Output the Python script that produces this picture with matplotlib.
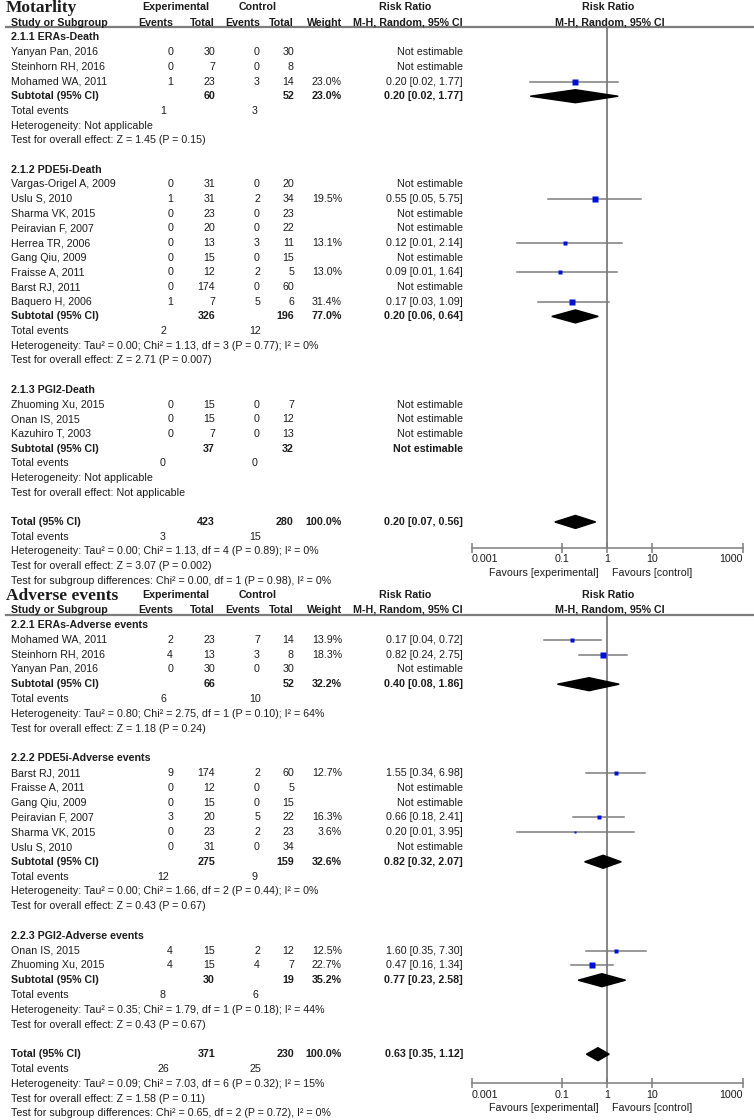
"""
Forest plots (risk ratio, M-H random) for mortality and adverse events.
"""

import matplotlib.pyplot as plt
from matplotlib.ticker import NullLocator

plt.rcParams["font.family"] = ["Liberation Sans", "DejaVu Sans"]

# study rows: (study, exp events, exp total, ctl events, ctl total, weight %, RR, lower, upper)
mort_era = [
    ("Yanyan Pan, 2016", 0, 30, 0, 30, None, None, None, None),
    ("Steinhorn RH, 2016", 0, 7, 0, 8, None, None, None, None),
    ("Mohamed WA, 2011", 1, 23, 3, 14, 23.0, 0.20, 0.02, 1.77),
]
mort_pde5i = [
    ("Vargas-Origel A, 2009", 0, 31, 0, 20, None, None, None, None),
    ("Uslu S, 2010", 1, 31, 2, 34, 19.5, 0.55, 0.05, 5.75),
    ("Sharma VK, 2015", 0, 23, 0, 23, None, None, None, None),
    ("Peiravian F, 2007", 0, 20, 0, 22, None, None, None, None),
    ("Herrea TR, 2006", 0, 13, 3, 11, 13.1, 0.12, 0.01, 2.14),
    ("Gang Qiu, 2009", 0, 15, 0, 15, None, None, None, None),
    ("Fraisse A, 2011", 0, 12, 2, 5, 13.0, 0.09, 0.01, 1.64),
    ("Barst RJ, 2011", 0, 174, 0, 60, None, None, None, None),
    ("Baquero H, 2006", 1, 7, 5, 6, 31.4, 0.17, 0.03, 1.09),
]
mort_pgi2 = [
    ("Zhuoming Xu, 2015", 0, 15, 0, 7, None, None, None, None),
    ("Onan IS, 2015", 0, 15, 0, 12, None, None, None, None),
    ("Kazuhiro T, 2003", 0, 7, 0, 13, None, None, None, None),
]
mort_groups = ["2.1.1 ERAs-Death", "2.1.2 PDE5i-Death", "2.1.3 PGI2-Death"]
mort_sub_n = [(60, 52), (326, 196), (37, 32)]
mort_sub_weight = [23.0, 77.0, None]
mort_sub_rr = [(0.20, 0.02, 1.77), (0.20, 0.06, 0.64), None]
mort_sub_events = [(1, 3), (2, 12), (0, 0)]
mort_sub_het = [
    "Heterogeneity: Not applicable",
    "Heterogeneity: Tau² = 0.00; Chi² = 1.13, df = 3 (P = 0.77); I² = 0%",
    "Heterogeneity: Not applicable",
]
mort_sub_z = [
    "Test for overall effect: Z = 1.45 (P = 0.15)",
    "Test for overall effect: Z = 2.71 (P = 0.007)",
    "Test for overall effect: Not applicable",
]
mort_total_n = (423, 280)
mort_total_rr = (0.20, 0.07, 0.56)
mort_total_events = (3, 15)
mort_total_notes = [
    "Heterogeneity: Tau² = 0.00; Chi² = 1.13, df = 4 (P = 0.89); I² = 0%",
    "Test for overall effect: Z = 3.07 (P = 0.002)",
    "Test for subgroup differences: Chi² = 0.00, df = 1 (P = 0.98), I² = 0%",
]

adv_era = [
    ("Mohamed WA, 2011", 2, 23, 7, 14, 13.9, 0.17, 0.04, 0.72),
    ("Steinhorn RH, 2016", 4, 13, 3, 8, 18.3, 0.82, 0.24, 2.75),
    ("Yanyan Pan, 2016", 0, 30, 0, 30, None, None, None, None),
]
adv_pde5i = [
    ("Barst RJ, 2011", 9, 174, 2, 60, 12.7, 1.55, 0.34, 6.98),
    ("Fraisse A, 2011", 0, 12, 0, 5, None, None, None, None),
    ("Gang Qiu, 2009", 0, 15, 0, 15, None, None, None, None),
    ("Peiravian F, 2007", 3, 20, 5, 22, 16.3, 0.66, 0.18, 2.41),
    ("Sharma VK, 2015", 0, 23, 2, 23, 3.6, 0.20, 0.01, 3.95),
    ("Uslu S, 2010", 0, 31, 0, 34, None, None, None, None),
]
adv_pgi2 = [
    ("Onan IS, 2015", 4, 15, 2, 12, 12.5, 1.60, 0.35, 7.30),
    ("Zhuoming Xu, 2015", 4, 15, 4, 7, 22.7, 0.47, 0.16, 1.34),
]
adv_groups = ["2.2.1 ERAs-Adverse events", "2.2.2 PDE5i-Adverse events",
              "2.2.3 PGI2-Adverse events"]
adv_sub_n = [(66, 52), (275, 159), (30, 19)]
adv_sub_weight = [32.2, 32.6, 35.2]
adv_sub_rr = [(0.40, 0.08, 1.86), (0.82, 0.32, 2.07), (0.77, 0.23, 2.58)]
adv_sub_events = [(6, 10), (12, 9), (8, 6)]
adv_sub_het = [
    "Heterogeneity: Tau² = 0.80; Chi² = 2.75, df = 1 (P = 0.10); I² = 64%",
    "Heterogeneity: Tau² = 0.00; Chi² = 1.66, df = 2 (P = 0.44); I² = 0%",
    "Heterogeneity: Tau² = 0.35; Chi² = 1.79, df = 1 (P = 0.18); I² = 44%",
]
adv_sub_z = [
    "Test for overall effect: Z = 1.18 (P = 0.24)",
    "Test for overall effect: Z = 0.43 (P = 0.67)",
    "Test for overall effect: Z = 0.43 (P = 0.67)",
]
adv_total_n = (371, 230)
adv_total_rr = (0.63, 0.35, 1.12)
adv_total_events = (26, 25)
adv_total_notes = [
    "Heterogeneity: Tau² = 0.09; Chi² = 7.03, df = 6 (P = 0.32); I² = 15%",
    "Test for overall effect: Z = 1.58 (P = 0.11)",
    "Test for subgroup differences: Chi² = 0.65, df = 2 (P = 0.72), I² = 0%",
]

tick_values = [0.001, 0.1, 1, 10, 1000]
tick_labels = ["0.001", "0.1", "1", "10", "1000"]

W, H = 754, 1120
TXT = "#1c1c1c"
GREY = "#7d7d7d"
FS = 7.7

fig = plt.figure(figsize=(W / 100, H / 100), dpi=100)
# full-figure axes in pixel units, only used to place the table text
tab = fig.add_axes([0, 0, 1, 1])
tab.set_xlim(0, W)
tab.set_ylim(H, 0)
tab.axis("off")

# column right edges (pixels)
X_NAME, X_EEV, X_EN, X_CEV, X_CN, X_W, X_RR = 11, 173, 215, 260, 294, 342, 463
X_TEV, X_TCEV = 163, 255
F_LEFT, F_RIGHT = 471.5, 742.5


def put(x, y, s, ha="left", bold=False, **kw):
    tab.text(x, y, s, ha=ha, va="center", fontsize=kw.pop("size", FS),
             fontweight="bold" if bold else "normal", color=TXT, **kw)


def rr_text(rr):
    if rr is None:
        return "Not estimable"
    return f"{rr[0]:.2f} [{rr[1]:.2f}, {rr[2]:.2f}]"


def draw_section(title, y0, step, groups, studies, sub_n, sub_w, sub_rr,
                 sub_ev, sub_het, sub_z, tot_n, tot_rr, tot_ev, tot_notes,
                 axis_y):
    # headers
    put(6, y0 - 29.5, title, bold=True, size=12.5, family="Liberation Serif")
    put(176, y0 - 30, "Experimental", ha="center", bold=True)
    put(258, y0 - 30, "Control", ha="center", bold=True)
    put(405, y0 - 30, "Risk Ratio", ha="center", bold=True)
    put(608, y0 - 30, "Risk Ratio", ha="center", bold=True)
    hy = y0 - 15
    put(X_NAME, hy, "Study or Subgroup", bold=True)
    for x, s in [(X_EEV, "Events"), (X_EN, "Total"), (X_CEV, "Events"),
                 (X_CN, "Total"), (X_W, "Weight"), (X_RR, "M-H, Random, 95% CI")]:
        put(x, hy, s, ha="right", bold=True)
    put(610, hy, "M-H, Random, 95% CI", ha="center", bold=True)
    line_y = y0 - 10.5
    tab.plot([6, W], [line_y, line_y], color=GREY, lw=1.6)

    # forest panel sharing pixel rows with the table
    fx = fig.add_axes([F_LEFT / W, 1 - axis_y / H, (F_RIGHT - F_LEFT) / W,
                       (axis_y - line_y) / H])
    fx.set_xscale("log")
    fx.set_xlim(tick_values[0], tick_values[-1])
    fx.set_ylim(axis_y, line_y)
    fx.patch.set_alpha(0)
    for side in ["top", "left", "right"]:
        fx.spines[side].set_visible(False)
    fx.spines["bottom"].set_color(GREY)
    fx.spines["bottom"].set_linewidth(1.1)
    fx.set_yticks([])
    fx.set_xticks(tick_values)
    fx.set_xticklabels(tick_labels)
    fx.xaxis.set_minor_locator(NullLocator())
    fx.tick_params(axis="x", direction="inout", length=7, width=1.1, colors=GREY,
                   labelcolor=TXT, labelsize=FS, pad=1.5)
    labs = fx.get_xticklabels()
    labs[0].set_ha("left")
    labs[-1].set_ha("right")
    fx.axvline(1, color=GREY, lw=1.3, zorder=1)

    def diamond(rr, y):
        fx.fill([rr[1], rr[0], rr[2], rr[0]], [y, y - 6.5, y, y + 6.5],
                color="black", zorder=3, clip_on=False)

    i = 0
    for g, rows in enumerate(studies):
        put(X_NAME, y0 + i * step, groups[g], bold=True)
        i += 1
        for name, eev, en, cev, cn, w, rr, lo, hi in rows:
            y = y0 + i * step
            put(X_NAME, y, name)
            put(X_EEV, y, str(eev), ha="right")
            put(X_EN, y, str(en), ha="right")
            put(X_CEV, y, str(cev), ha="right")
            put(X_CN, y, str(cn), ha="right")
            if w is not None:
                put(X_W, y, f"{w:.1f}%", ha="right")
                put(X_RR, y, rr_text((rr, lo, hi)), ha="right")
                fx.plot([lo, hi], [y, y], color=GREY, lw=1.1, zorder=2)
                side = max(2.0, 1.2 * w ** 0.5) * 72 / 100
                fx.plot(rr, y, marker="s", ms=side, color="#0010d0", mec="none",
                        zorder=4)
            else:
                put(X_RR, y, "Not estimable", ha="right")
            i += 1
        y = y0 + i * step
        put(X_NAME, y, "Subtotal (95% CI)", bold=True)
        put(X_EN, y, str(sub_n[g][0]), ha="right", bold=True)
        put(X_CN, y, str(sub_n[g][1]), ha="right", bold=True)
        if sub_w[g] is not None:
            put(X_W, y, f"{sub_w[g]:.1f}%", ha="right", bold=True)
        put(X_RR, y, rr_text(sub_rr[g]), ha="right", bold=True)
        if sub_rr[g] is not None:
            diamond(sub_rr[g], y)
        i += 1
        y = y0 + i * step
        put(X_NAME, y, "Total events")
        put(X_TEV, y, str(sub_ev[g][0]), ha="center")
        put(X_TCEV, y, str(sub_ev[g][1]), ha="center")
        put(X_NAME, y0 + (i + 1) * step, sub_het[g])
        put(X_NAME, y0 + (i + 2) * step, sub_z[g])
        i += 4

    y = y0 + i * step
    put(X_NAME, y, "Total (95% CI)", bold=True)
    put(X_EN, y, str(tot_n[0]), ha="right", bold=True)
    put(X_CN, y, str(tot_n[1]), ha="right", bold=True)
    put(X_W, y, "100.0%", ha="right", bold=True)
    put(X_RR, y, rr_text(tot_rr), ha="right", bold=True)
    diamond(tot_rr, y)
    i += 1
    y = y0 + i * step
    put(X_NAME, y, "Total events")
    put(X_TEV, y, str(tot_ev[0]), ha="center")
    put(X_TCEV, y, str(tot_ev[1]), ha="center")
    for k, note in enumerate(tot_notes):
        put(X_NAME, y0 + (i + 1 + k) * step, note)

    fav_y = axis_y + 25
    fx.annotate("Favours [experimental]", xy=(1, fav_y), xytext=(-8, 0),
                textcoords="offset pixels", ha="right", va="center",
                fontsize=FS, color=TXT, annotation_clip=False)
    fx.annotate("Favours [control]", xy=(1, fav_y), xytext=(5, 0),
                textcoords="offset pixels", ha="left", va="center",
                fontsize=FS, color=TXT, annotation_clip=False)


draw_section("Motarlity", 37.5, 14.68,
             mort_groups, [mort_era, mort_pde5i, mort_pgi2],
             mort_sub_n, mort_sub_weight, mort_sub_rr, mort_sub_events,
             mort_sub_het, mort_sub_z, mort_total_n, mort_total_rr,
             mort_total_events, mort_total_notes, axis_y=547.5)

draw_section("Adverse events", 625, 14.8,
             adv_groups, [adv_era, adv_pde5i, adv_pgi2],
             adv_sub_n, adv_sub_weight, adv_sub_rr, adv_sub_events,
             adv_sub_het, adv_sub_z, adv_total_n, adv_total_rr,
             adv_total_events, adv_total_notes, axis_y=1083)

fig.savefig("out.png", dpi=100)
